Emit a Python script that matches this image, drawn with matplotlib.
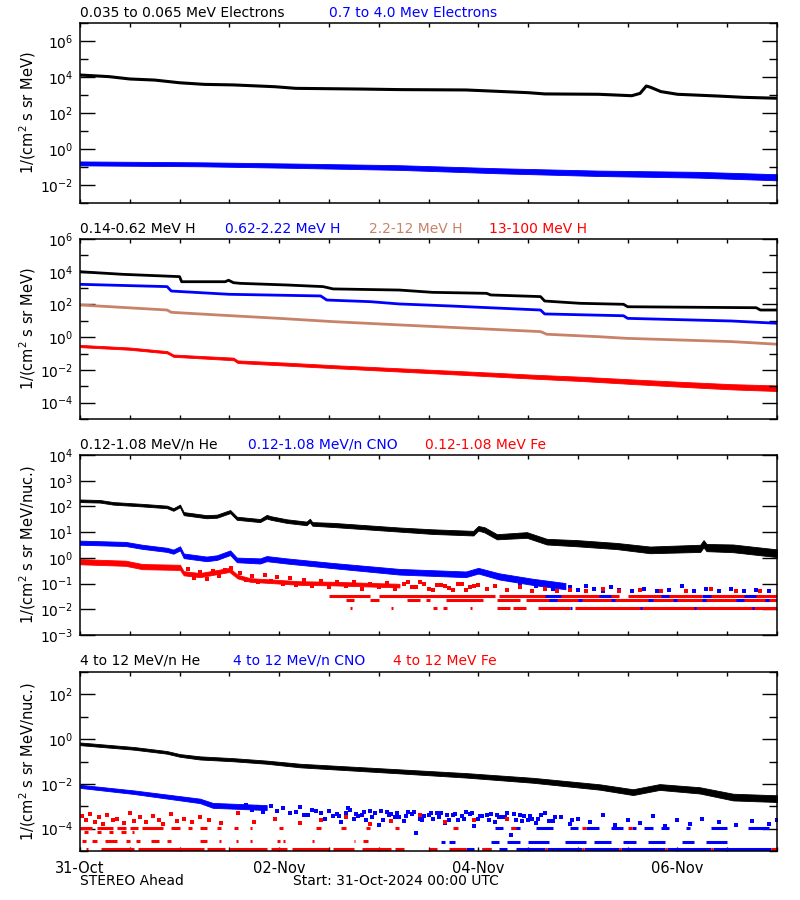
import numpy as np
import matplotlib
matplotlib.use('Agg')
import matplotlib.pyplot as plt
from matplotlib.ticker import FixedLocator, NullFormatter, FixedFormatter, FuncFormatter

plt.rcParams['font.family'] = ['DejaVu Sans']
plt.rcParams['mathtext.fontset'] = 'dejavusans'

# ---------------- data (hours since 31-Oct-2024 00:00 UTC, log10 flux) ----------------
# Panel 1: electrons
e_low_t = [0, 7, 12, 18, 24, 30, 37, 47, 52, 68, 77, 93, 108, 112, 125, 133, 135, 136.5, 137.5, 140, 144, 154, 160, 168]
e_low_log = [4.11, 4.02, 3.89, 3.83, 3.68, 3.59, 3.56, 3.46, 3.37, 3.33, 3.30, 3.28, 3.13, 3.06, 3.04, 2.96, 3.09, 3.50, 3.43, 3.19, 3.04, 2.94, 2.87, 2.82]
e_high_t = [0, 29, 52, 77, 101, 125, 149, 168]
e_high_log = [-0.80, -0.85, -0.93, -1.03, -1.21, -1.35, -1.43, -1.57]
e_high_spread = [0.11, 0.11, 0.12, 0.13, 0.14, 0.15, 0.16, 0.17]

# Panel 2: protons
h1_t = [0, 10.4, 24, 24.5, 35, 35.8, 37, 38.6, 49.8, 58.6, 61, 77, 85, 98, 99, 111, 112, 120.5, 131, 132, 163, 164, 168]
h1_log = [4.00, 3.84, 3.70, 3.39, 3.39, 3.48, 3.33, 3.29, 3.19, 3.09, 2.95, 2.88, 2.74, 2.68, 2.58, 2.48, 2.21, 2.07, 2.01, 1.86, 1.80, 1.66, 1.66]
h2_t = [0, 21, 22, 29, 36, 58, 59.5, 70, 73, 77, 89, 111, 112, 131, 132, 157, 168]
h2_log = [3.23, 3.09, 2.82, 2.72, 2.62, 2.52, 2.27, 2.17, 2.11, 2.03, 1.91, 1.66, 1.42, 1.31, 1.15, 0.99, 0.85]
h3_t = [0, 21, 22, 33, 48, 61, 77, 111, 112.5, 125, 131.7, 157, 168]
h3_log = [1.97, 1.66, 1.52, 1.36, 1.15, 0.95, 0.75, 0.34, 0.18, 0.03, -0.07, -0.27, -0.43]
h4_t = [0, 12, 21, 22.5, 37, 38, 50, 61, 77, 93, 109, 121, 133, 145, 157, 168]
h4_log = [-0.54, -0.70, -0.92, -1.13, -1.33, -1.50, -1.65, -1.80, -2.00, -2.20, -2.41, -2.55, -2.72, -2.88, -3.03, -3.12]
h4_spread = [0.07, 0.07, 0.07, 0.07, 0.08, 0.08, 0.09, 0.09, 0.10, 0.11, 0.12, 0.13, 0.14, 0.15, 0.16, 0.17]

# Panel 3: 0.12-1.08 MeV/n heavy ions
he3_t = [0, 4.8, 8, 15, 21, 22.5, 24.1, 25, 30.5, 33, 36.2, 37.8, 43.4, 45, 46, 49.8, 54.6, 55.4, 56, 61, 77, 85, 94.8, 96, 97.5, 100.5, 107.7, 112.5, 119.8, 129.4, 137.4, 149.5, 150.3, 151, 157.4, 168]
he3_log = [2.22, 2.20, 2.12, 2.05, 1.98, 1.88, 2.02, 1.72, 1.60, 1.62, 1.80, 1.54, 1.45, 1.60, 1.55, 1.43, 1.34, 1.45, 1.32, 1.28, 1.10, 1.02, 0.96, 1.15, 1.09, 0.82, 0.89, 0.63, 0.57, 0.46, 0.31, 0.37, 0.55, 0.40, 0.37, 0.18]
he3_spread = [0.05, 0.05, 0.05, 0.05, 0.05, 0.05, 0.05, 0.06, 0.06, 0.06, 0.06, 0.06, 0.06, 0.07, 0.07, 0.07, 0.07, 0.07, 0.07, 0.08, 0.08, 0.09, 0.09, 0.09, 0.10, 0.10, 0.11, 0.11, 0.12, 0.12, 0.13, 0.14, 0.14, 0.14, 0.15, 0.15]
cno3_t = [0, 11, 15, 21, 22.5, 24.1, 25, 30.5, 33, 36.2, 37.8, 43.4, 45, 49.8, 61, 77, 93, 96, 101, 109, 117]
cno3_log = [0.59, 0.54, 0.43, 0.31, 0.24, 0.37, 0.08, -0.04, 0.01, 0.20, -0.08, -0.12, -0.03, -0.12, -0.30, -0.54, -0.64, -0.50, -0.72, -0.93, -1.10]
cno3_spread = [0.08, 0.08, 0.08, 0.08, 0.08, 0.08, 0.09, 0.09, 0.09, 0.09, 0.09, 0.10, 0.10, 0.10, 0.10, 0.11, 0.11, 0.11, 0.12, 0.12, 0.12]
fe3_t = [0, 11, 15, 24.1, 25, 28.9, 36, 38, 41, 53, 61, 77]
fe3_log = [-0.15, -0.21, -0.34, -0.37, -0.60, -0.67, -0.47, -0.73, -0.86, -0.98, -1.00, -1.08]
fe3_spread = [0.10, 0.10, 0.10, 0.10, 0.08, 0.08, 0.08, 0.07, 0.07, 0.07, 0.07, 0.07]
cno3_pts_t = [104, 106, 108, 110, 112, 114, 116, 118, 120, 122, 124, 126, 128, 130, 133, 136, 139, 142, 145, 148, 151, 154, 157, 160, 163, 166]
cno3_pts_log = [-0.85, -1.0, -0.9, -1.1, -1.0, -1.2, -1.05, -1.15, -1.25, -1.1, -1.2, -1.28, -1.15, -1.25, -1.28, -1.2, -1.28, -1.25, -1.1, -1.28, -1.22, -1.28, -1.2, -1.28, -1.25, -1.28]
fe3_pts_t = [78, 80, 82, 84, 86, 88, 90, 92, 94, 96, 98, 100, 103, 106, 109, 112, 115, 118, 122, 126, 130, 135, 140, 146, 152, 158, 164,
             26, 27.5, 29, 30.5, 32, 33.5, 35, 36.5, 38.5, 40, 41.5, 43, 44.5, 46, 47.5, 49, 50.5, 52, 54, 56,
             58, 60, 62, 64, 66, 68, 70, 72, 74, 76, 79, 81, 83, 85, 87, 89, 91, 93, 95]
fe3_pts_log = [-1.0, -1.15, -0.95, -1.2, -1.05, -1.1, -1.25, -1.0, -1.15, -1.05, -1.2, -1.1, -1.25, -1.15, -1.28, -1.2, -1.28, -1.25, -1.28, -1.2, -1.28, -1.25, -1.28, -1.28, -1.22, -1.28, -1.28,
               -0.45, -0.78, -0.55, -0.82, -0.50, -0.72, -0.48, -0.38, -0.60, -0.85, -0.70, -0.95, -0.65, -0.90, -0.75, -1.0, -0.80, -1.05, -0.85, -1.10,
               -0.90, -1.15, -0.95, -1.10, -0.92, -1.20, -1.0, -1.15, -0.98, -1.22, -0.95, -1.15, -1.0, -1.25, -1.05, -1.18, -1.0, -1.25, -1.1]
# quantised count levels (log10) and occupied time spans
lvl3 = [-1.47, -1.64, -1.94]
fe3_lvl_spans = [
    [(60, 70), (72, 100), (101, 130), (132, 150), (151, 168)],
    [(64, 66), (70, 72), (78.7, 81.9), (83.5, 84.3), (88.3, 97.2), (100.4, 106), (107.6, 168)],
    [(65, 65.5), (75, 75.5), (85, 86), (87.5, 88.5), (94, 94.5), (100.4, 103.6), (104.4, 107.6), (110.4, 118), (119.3, 168)],
]
cno3_lvl_spans = [
    [(112, 116), (125, 128), (140, 142), (150, 152), (160, 163)],
    [(113, 115), (120, 121), (128, 129), (137, 138), (143, 144), (150, 151), (158, 160), (165, 166)],
    [(118, 118.5), (135, 135.5), (148, 148.5), (162, 162.5)],
]

# Panel 4: 4-12 MeV/n heavy ions
he4_t = [0, 12.9, 20.9, 24.1, 28.9, 36.9, 45, 53, 77, 93.2, 109.2, 125.3, 133.3, 139.7, 149.4, 157.4, 168]
he4_log = [-0.21, -0.41, -0.59, -0.73, -0.84, -0.92, -1.03, -1.18, -1.44, -1.62, -1.84, -2.14, -2.37, -2.14, -2.29, -2.59, -2.66]
he4_spread = [0.06, 0.06, 0.06, 0.06, 0.07, 0.07, 0.07, 0.08, 0.09, 0.10, 0.11, 0.12, 0.13, 0.13, 0.14, 0.15, 0.15]
cno4_t = [0, 12.9, 28.9, 32, 45]
cno4_log = [-2.11, -2.37, -2.76, -2.96, -3.06]
cno4_spread = [0.07, 0.08, 0.10, 0.11, 0.11]
cno4_pts_t = [52, 54, 57, 59, 62, 63, 65, 67, 69, 71, 72, 74, 76, 78, 80, 81, 83, 85, 86, 88,
              90, 91, 93, 95, 97, 99, 100, 102, 104, 106, 108, 110, 112, 114, 116, 118, 120, 123, 126, 129,
              132, 135, 138, 141, 144, 147, 150, 154, 158, 162, 166, 168,
              61, 64, 66, 68, 70, 73, 75, 77, 79, 82, 84, 87, 89, 92, 94, 96, 98, 101, 103, 105, 107, 109, 111, 113,
              40, 41.5, 43, 44, 46, 47.5, 49, 50.5, 53, 55, 56, 58, 60, 62.5, 64.5, 66.5, 68.5, 70.5, 72.5, 74.5,
              76.5, 78.5, 80.5, 82.5, 84.5, 86.5, 88.5, 90.5, 92.5, 94.5, 96.5, 98.5, 100.5, 102.5, 104.5, 106.5, 108.5, 110.5, 114.5, 118.5]
cno4_pts_log = [-3.25, -3.40, -3.20, -3.55, -3.35, -3.70, -3.15, -3.45, -3.60, -3.30, -3.85, -3.25, -3.50, -3.65, -3.35, -4.20, -3.45, -3.55, -3.30, -3.75,
                -3.40, -3.60, -3.25, -3.90, -3.45, -3.35, -3.70, -3.50, -4.30, -3.40, -3.60, -3.75, -3.30, -3.65, -3.50, -3.80, -3.55, -3.70, -3.40, -3.85,
                -3.60, -3.75, -3.45, -3.90, -3.60, -3.80, -3.55, -3.70, -3.85, -3.65, -3.80, -3.60,
                -3.45, -3.30, -3.55, -3.40, -3.20, -3.60, -3.35, -3.50, -3.25, -3.55, -3.40, -3.30, -3.60, -3.45, -3.35, -3.55, -3.40, -3.50, -3.30, -3.60, -3.45, -3.55, -3.40, -3.65,
                -2.95, -3.15, -3.05, -3.25, -3.00, -3.20, -3.10, -3.30, -3.05, -3.40, -3.15, -3.30, -3.20, -3.45, -3.10, -3.35, -3.25, -3.50, -3.20, -3.40,
                -3.30, -3.45, -3.25, -3.60, -3.30, -3.50, -3.40, -3.35, -3.55, -3.30, -3.45, -3.60, -3.40, -3.50, -3.35, -3.65, -3.45, -3.55, -3.50, -3.60]
fe4_pts_t = [0.5, 1.5, 2.5, 3.5, 4.5, 5.5, 6.5, 8, 9, 10.5, 12, 13, 14.5, 16, 17.5, 19, 20, 22, 23.5, 25,
             27, 29, 31, 34, 38, 42, 47, 53, 58, 64, 70, 75, 82, 88, 95, 103]
fe4_pts_log = [-3.45, -3.60, -3.35, -3.70, -3.50, -3.78, -3.40, -3.62, -3.55, -3.75, -3.30, -3.68, -3.50, -3.72, -3.42, -3.60, -3.78, -3.35, -3.65, -3.55,
               -3.70, -3.48, -3.62, -3.75, -3.30, -3.70, -3.55, -3.75, -3.62, -3.50, -3.78, -3.68, -3.40, -3.72, -3.60, -3.55]
lvl4_fe = [-3.96, -4.15, -4.57, -4.89]
fe4_lvl_spans = [
    [(0, 3), (4, 8), (9, 11), (12, 14), (15, 20), (22, 24), (26, 27), (29, 30.5), (33, 34), (37, 38), (41, 41.5), (48, 49), (57, 58), (63, 64), (69, 70), (76, 77), (90, 91), (104, 105), (121, 122), (132, 133)],
    [(1, 2), (4, 5), (7, 8), (10, 11), (12.5, 13)],
    [(0.5, 1.5), (3, 4), (6, 9), (11, 12), (13.5, 14.5), (17, 19), (21, 22), (29, 30.5), (33.5, 34), (37.5, 38), (41, 41.5), (47.4, 48.2), (49, 49.3), (56, 56.5), (66, 66.3), (68.3, 69.4)],
    [(1.5, 2), (5, 13), (14, 30), (30.5, 35), (36, 45), (46, 50), (51, 60), (61, 66), (68, 75), (76, 78), (84, 86), (89, 93), (97, 99), (112, 112.5), (121, 121.5), (130, 130.5), (141, 141.5), (152, 152.5), (166.5, 168)],
]
lvl4_cno = [-3.99, -4.59, -4.91]
cno4_lvl_spans = [
    [(100, 102), (104, 106), (110, 114), (118, 120), (122, 125), (128, 131), (133, 134), (136, 138), (140, 142), (146, 147), (152, 156), (161, 166)],
    [(87, 88), (89, 90.5), (99, 101), (103, 106), (108, 113), (117, 122), (124, 128), (131, 134), (137, 141), (145, 148), (151, 156)],
    [(93, 95), (97, 99), (101, 103), (105, 112), (112.5, 121), (121.5, 130), (130.5, 141), (141.5, 152), (152.5, 166.5)],
]

date_labels = ['31-Oct', '02-Nov', '04-Nov', '06-Nov']
date_hours = [0, 48, 96, 144]

BLACK, BLUE, RED, BROWN = '#000000', '#0000ff', '#ff0000', '#c8826a'

# ---------------- figure ----------------
fig = plt.figure(figsize=(8, 9), dpi=100)
W, H = 800.0, 900.0


def make_ax(top, bottom, ylo, yhi, major_exp, minor_exp, ylabel):
    ax = fig.add_axes([80 / W, 1 - bottom / H, 697 / W, (bottom - top) / H])
    ax.set_yscale('log')
    ax.set_xlim(0, 168)
    ax.set_ylim(10.0 ** ylo, 10.0 ** yhi)
    ax.yaxis.set_major_locator(FixedLocator([10.0 ** e for e in major_exp]))
    ax.yaxis.set_major_formatter(FixedFormatter(['$10^{%d}$' % e for e in major_exp]))
    ax.yaxis.set_minor_locator(FixedLocator([10.0 ** e for e in minor_exp]))
    ax.yaxis.set_minor_formatter(NullFormatter())
    ax.xaxis.set_major_locator(FixedLocator(list(range(0, 169, 12))))
    ax.xaxis.set_major_formatter(NullFormatter())
    ax.tick_params(axis='y', which='major', direction='in', length=10.5, width=1, left=True, right=True, labelsize=10, pad=5)
    ax.tick_params(axis='y', which='minor', direction='in', length=6, width=1, left=True, right=True)
    ax.tick_params(axis='x', which='major', direction='in', length=2.6, width=1, top=True, bottom=True)
    for s in ax.spines.values():
        s.set_linewidth(1.1)
    ax.set_ylabel(ylabel, fontsize=10.5)
    ax.yaxis.set_label_coords(-42 / 697, 0.5)
    return ax


def band(ax, t, c, h, color):
    t = np.asarray(t, float)
    c = np.asarray(c, float)
    h = np.asarray(h, float)
    ax.fill_between(t, 10 ** (c - h), 10 ** (c + h), color=color, lw=0.6, edgecolor=color)


def levels(ax, lvls, spans, color, lw=2.2):
    for lv, sp in zip(lvls, spans):
        for a, b in sp:
            ax.hlines(10 ** lv, a, b, color=color, lw=lw)


def pts(ax, t, v, color):
    ax.plot(t, 10 ** np.asarray(v), ls='none', marker='s', ms=2.3, mew=0, color=color)


# Panel 1
ax1 = make_ax(23, 203, -3, 7, [6, 4, 2, 0, -2], [7, 5, 3, 1, -1, -3], '1/(cm$^2$ s sr MeV)')
band(ax1, e_high_t, e_high_log, e_high_spread, BLUE)
ax1.plot(e_low_t, 10 ** np.asarray(e_low_log), color=BLACK, lw=2.2)

# Panel 2
ax2 = make_ax(239, 419, -5, 6, [6, 4, 2, 0, -2, -4], [5, 3, 1, -1, -3, -5], '1/(cm$^2$ s sr MeV)')
ax2.plot(h1_t, 10 ** np.asarray(h1_log), color=BLACK, lw=2.0)
ax2.plot(h2_t, 10 ** np.asarray(h2_log), color=BLUE, lw=2.0)
ax2.plot(h3_t, 10 ** np.asarray(h3_log), color=BROWN, lw=2.0)
band(ax2, h4_t, h4_log, h4_spread, RED)

# Panel 3
ax3 = make_ax(455, 635, -3, 4, [4, 3, 2, 1, 0, -1, -2, -3], [], '1/(cm$^2$ s sr MeV/nuc.)')
band(ax3, he3_t, he3_log, he3_spread, BLACK)
band(ax3, cno3_t, cno3_log, cno3_spread, BLUE)
band(ax3, fe3_t, fe3_log, fe3_spread, RED)
pts(ax3, cno3_pts_t, cno3_pts_log, BLUE)
pts(ax3, fe3_pts_t, fe3_pts_log, RED)
levels(ax3, lvl3, fe3_lvl_spans, RED)
levels(ax3, lvl3, cno3_lvl_spans, BLUE)

# Panel 4
ax4 = make_ax(672, 851, -5, 3, [2, 0, -2, -4], [3, 1, -1, -3, -5], '1/(cm$^2$ s sr MeV/nuc.)')
band(ax4, he4_t, he4_log, he4_spread, BLACK)
band(ax4, cno4_t, cno4_log, cno4_spread, BLUE)
pts(ax4, cno4_pts_t, cno4_pts_log, BLUE)
pts(ax4, fe4_pts_t, fe4_pts_log, RED)
levels(ax4, lvl4_cno, cno4_lvl_spans, BLUE)
levels(ax4, lvl4_fe, fe4_lvl_spans, RED)


def date_fmt(x, pos):
    for h, lab in zip(date_hours, date_labels):
        if abs(x - h) < 1e-6:
            return lab
    return ''


ax4.xaxis.set_major_formatter(FuncFormatter(date_fmt))
ax4.tick_params(axis='x', which='major', labelsize=10.5, pad=7)

# ---------------- titles / annotations ----------------
def ftext(x, y, s, color='black', **kw):
    fig.text(x / W, 1 - y / H, s, color=color, fontsize=10, va='center', ha='left', **kw)

ftext(80, 13, '0.035 to 0.065 MeV Electrons')
ftext(329, 13, '0.7 to 4.0 Mev Electrons', BLUE)
ftext(80, 229, '0.14-0.62 MeV H')
ftext(225, 229, '0.62-2.22 MeV H', BLUE)
ftext(369, 229, '2.2-12 MeV H', BROWN)
ftext(489, 229, '13-100 MeV H', RED)
ftext(80, 445, '0.12-1.08 MeV/n He')
ftext(248, 445, '0.12-1.08 MeV/n CNO', BLUE)
ftext(425, 445, '0.12-1.08 MeV Fe', RED)
ftext(80, 661, '4 to 12 MeV/n He')
ftext(233, 661, '4 to 12 MeV/n CNO', BLUE)
ftext(393, 661, '4 to 12 MeV Fe', RED)
ftext(80, 881, 'STEREO Ahead')
ftext(293, 881, 'Start: 31-Oct-2024 00:00 UTC')

fig.savefig('out.png', dpi=100)
